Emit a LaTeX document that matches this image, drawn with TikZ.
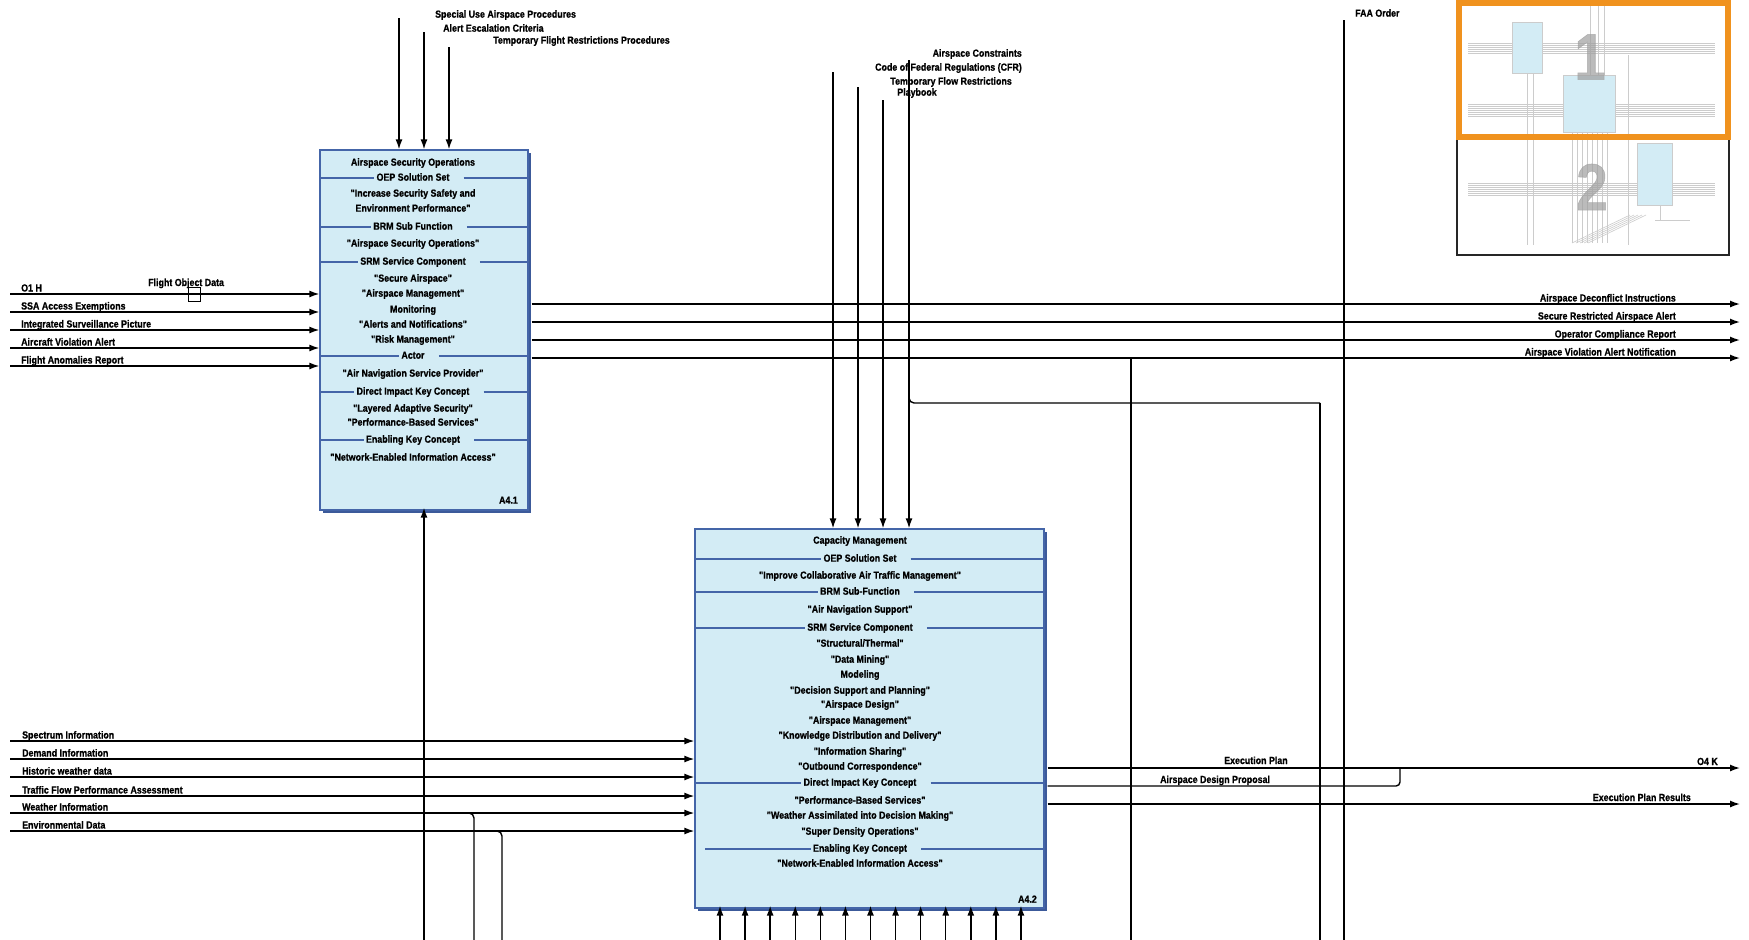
\documentclass[tikz,border=0pt]{standalone}
\usepackage{fontspec}
\newfontfamily\lbf[FakeStretch=0.86, BoldFeatures={FakeBold=0.8}]{Liberation Sans}
\usetikzlibrary{arrows.meta}
\definecolor{boxfill}{HTML}{D3ECF5}
\definecolor{boxline}{HTML}{4465A8}
\definecolor{boxshade}{HTML}{3C5A9A}
\definecolor{thumborange}{HTML}{F0921E}

% header row inside an activity box: text with a rule broken around it
\newcommand\hdrrow[6]{%
  \node[txt] (#1) at (#2,#3) {#6};
  \draw[sep] (#4,#3) -- ([xshift=-2pt]#1.west);
  \draw[sep] ([xshift=14pt]#1.east) -- (#5,#3);
}

\begin{document}
\begin{tikzpicture}[x=1pt,y=-1pt,
  txt/.style={font={\lbf\bfseries\fontsize{10.3}{12}\selectfont}, inner sep=0pt,
              text height=7.6pt, text depth=2.2pt},
  lbl/.style={txt},
  line/.style={line width=1.4pt, black},
  flow/.style={line, -{Latex[length=10pt,width=7pt]}},
  sep/.style={line width=1.2pt, boxline},
  actbox/.style={draw=boxline, fill=boxfill, line width=1.3pt, inner sep=0pt,
                 preaction={fill=boxshade, transform canvas={xshift=3pt,yshift=-3pt}}},
  mini/.style={draw=gray!40, line width=0.6pt}]

\useasboundingbox (0,0) rectangle (1749,940);
\fill[white] (0,0) rectangle (1749,940);

% ---------------- activity boxes ----------------
\node[actbox, minimum width=208pt, minimum height=360pt] (A41) at (424,330) {};
\node[actbox, minimum width=349pt, minimum height=379pt] (A42) at (869.5,718.5) {};

% ---------------- A4.1 contents ----------------
\node[txt] (a1t1) at (413,163) {Airspace Security Operations};
\hdrrow{a1h1}{413}{178}{321}{527}{OEP Solution Set}
\node[txt] (a1t2) at (413,194) {"Increase Security Safety and};
\node[txt] (a1t3) at (413,209) {Environment Performance"};
\hdrrow{a1h2}{413}{227}{321}{527}{BRM Sub Function}
\node[txt] (a1t4) at (413,244) {"Airspace Security Operations"};
\hdrrow{a1h3}{413}{262}{321}{527}{SRM Service Component}
\node[txt] (a1t5) at (413,279) {"Secure Airspace"};
\node[txt] (a1t6) at (413,294) {"Airspace Management"};
\node[txt] (a1t7) at (413,310) {Monitoring};
\node[txt] (a1t8) at (413,325) {"Alerts and Notifications"};
\node[txt] (a1t9) at (413,340) {"Risk Management"};
\hdrrow{a1h4}{413}{356}{321}{527}{Actor}
\node[txt] (a1t10) at (413,374) {"Air Navigation Service Provider"};
\hdrrow{a1h5}{413}{392}{321}{527}{Direct Impact Key Concept}
\node[txt] (a1t11) at (413,409) {"Layered Adaptive Security"};
\node[txt] (a1t12) at (413,423) {"Performance-Based Services"};
\hdrrow{a1h6}{413}{440}{321}{527}{Enabling Key Concept}
\node[txt] (a1t13) at (413,458) {"Network-Enabled Information Access"};
\node[txt, anchor=east] (a1id) at (518,501) {A4.1};

% ---------------- A4.2 contents ----------------
\node[txt] (a2t1) at (860,541) {Capacity Management};
\hdrrow{a2h1}{860}{559}{696}{1043}{OEP Solution Set}
\node[txt] (a2t2) at (860,576) {"Improve Collaborative Air Traffic Management"};
\hdrrow{a2h2}{860}{592}{696}{1043}{BRM Sub-Function}
\node[txt] (a2t3) at (860,610) {"Air Navigation Support"};
\hdrrow{a2h3}{860}{628}{696}{1043}{SRM Service Component}
\node[txt] (a2t4) at (860,644) {"Structural/Thermal"};
\node[txt] (a2t5) at (860,660) {"Data Mining"};
\node[txt] (a2t6) at (860,675) {Modeling};
\node[txt] (a2t7) at (860,691) {"Decision Support and Planning"};
\node[txt] (a2t8) at (860,705) {"Airspace Design"};
\node[txt] (a2t9) at (860,721) {"Airspace Management"};
\node[txt] (a2t10) at (860,736) {"Knowledge Distribution and Delivery"};
\node[txt] (a2t11) at (860,752) {"Information Sharing"};
\node[txt] (a2t12) at (860,767) {"Outbound Correspondence"};
\hdrrow{a2h4}{860}{783}{696}{1043}{Direct Impact Key Concept}
\node[txt] (a2t13) at (860,801) {"Performance-Based Services"};
\node[txt] (a2t14) at (860,816) {"Weather Assimilated into Decision Making"};
\node[txt] (a2t15) at (860,832) {"Super Density Operations"};
\hdrrow{a2h5}{860}{849}{705}{1043}{Enabling Key Concept}
\node[txt] (a2t16) at (860,864) {"Network-Enabled Information Access"};
\node[txt, anchor=east] (a2id) at (1037,900) {A4.2};

% ---------------- controls into A4.1 ----------------
\coordinate (c11) at (399,18);
\coordinate (c12) at (424,32);
\coordinate (c13) at (449,47);
\foreach \c in {c11,c12,c13} \draw[flow] (\c) -- (\c |- A41.north);
\node[lbl, anchor=west] (lc11) at (435,15) {Special Use Airspace Procedures};
\node[lbl, anchor=west] (lc12) at (443,29) {Alert Escalation Criteria};
\node[lbl, anchor=west] (lc13) at (493,41) {Temporary Flight Restrictions Procedures};

% ---------------- inputs into A4.1 ----------------
\foreach \y/\t/\n in {294/{O1 H}/i1, 312/{SSA Access Exemptions}/i2,
    330/{Integrated Surveillance Picture}/i3, 348/{Aircraft Violation Alert}/i4,
    366/{Flight Anomalies Report}/i5} {
  \coordinate (\n) at (10,\y);
  \draw[flow] (\n) -- (\n -| A41.west);
  \node[lbl, anchor=base west] (l\n) at (21,\y-2.5) {\t};
}
\node[lbl, anchor=base west] (lfod) at (148,286) {Flight Object Data};
\node[draw, line width=1pt, minimum width=12pt, minimum height=14pt, inner sep=0pt] (tun) at (194,294) {};

% ---------------- outputs from A4.1 ----------------
\foreach \y/\t/\n in {304/{Airspace Deconflict Instructions}/o1,
    322/{Secure Restricted Airspace Alert}/o2, 340/{Operator Compliance Report}/o3,
    358/{Airspace Violation Alert Notification}/o4} {
  \coordinate (\n) at (1740,\y);
  \draw[flow] ([xshift=3pt]\n -| A41.east) -- (\n);
  \node[lbl, anchor=base east] (l\n) at (1676,\y-2.5) {\t};
}
\coordinate (v1t) at (1131,358);
\coordinate (v1b) at (1131,940);
\draw[line] (v1t) -- (v1b);

% ---------------- mechanism under A4.1 ----------------
\coordinate (m1) at (424,940);
\draw[flow, shorten >=-3pt] (m1) -- (m1 |- A41.south);

% ---------------- controls into A4.2 ----------------
\coordinate (c21) at (833,72);
\coordinate (c22) at (858,87);
\coordinate (c23) at (883,100);
\coordinate (c24) at (909,60);
\foreach \c in {c21,c22,c23,c24} \draw[flow] (\c) -- (\c |- A42.north);
\node[lbl, anchor=east] (lc21) at (1022,54) {Airspace Constraints};
\node[lbl, anchor=east] (lc22) at (1022,68) {Code of Federal Regulations (CFR)};
\node[lbl, anchor=east] (lc23) at (1012,82) {Temporary Flow Restrictions};
\node[lbl] (lc24) at (917,93) {Playbook};

% branch of the playbook line
\coordinate (br0) at (909,395);
\coordinate (br1) at (1320,403);
\coordinate (br2) at (1320,940);
\draw[line, rounded corners=5pt] (br0) |- (br1);
\draw[line] (br1) -- (br2);

% FAA order
\coordinate (faa) at (1344,20);
\coordinate (faab) at (1344,940);
\draw[line] (faa) -- (faab);
\node[lbl, anchor=west] (lfaa) at (1355,14) {FAA Order};

% ---------------- inputs into A4.2 ----------------
\foreach \y/\t/\n in {741/{Spectrum Information}/j1, 759/{Demand Information}/j2,
    777/{Historic weather data}/j3, 796/{Traffic Flow Performance Assessment}/j4,
    813/{Weather Information}/j5, 831/{Environmental Data}/j6} {
  \coordinate (\n) at (10,\y);
  \draw[flow] (\n) -- (\n -| A42.west);
  \node[lbl, anchor=base west] (l\n) at (22,\y-2.5) {\t};
}
\coordinate (w1) at (466,813);
\coordinate (w1b) at (474,940);
\draw[line, rounded corners=5pt] (w1) -| (w1b);
\coordinate (w2) at (494,831);
\coordinate (w2b) at (502,940);
\draw[line, rounded corners=5pt] (w2) -| (w2b);

% ---------------- outputs from A4.2 ----------------
\coordinate (ep) at (1740,768);
\draw[flow] ([xshift=3pt]ep -| A42.east) -- (ep);
\coordinate (adp) at (1400,786);
\coordinate (adpj) at (1400,768);
\draw[line, rounded corners=4pt] ([xshift=3pt]adp -| A42.east) -| (adpj);
\coordinate (epr) at (1740,804);
\draw[flow] ([xshift=3pt]epr -| A42.east) -- (epr);
\node[lbl, anchor=base west] (lep) at (1224,764) {Execution Plan};
\node[lbl, anchor=base east] (lo4) at (1718,765) {O4 K};
\node[lbl, anchor=base west] (ladp) at (1160,783) {Airspace Design Proposal};
\node[lbl, anchor=base east] (lepr) at (1691,801) {Execution Plan Results};

% ---------------- mechanisms under A4.2 ----------------
\foreach \i in {0,...,12} {
  \coordinate (b\i) at (720+25.08*\i,940);
  \draw[flow, shorten >=-3pt] (b\i) -- (b\i |- A42.south);
}

% ---------------- page navigator ----------------
\begin{scope}
  \draw[black!85, line width=1.5pt] (1457,-2) rectangle (1729,255);
  % faint miniature of the two pages
  \foreach \y in {43,45,...,53} {
    \draw[mini] (1468,\y) -- (1512,\y);
    \draw[mini] (1542,\y) -- (1715,\y);
  }
  \foreach \y in {104,106,...,116} {
    \draw[mini] (1468,\y) -- (1563,\y);
    \draw[mini] (1615,\y) -- (1715,\y);
  }
  \foreach \y in {183,185,...,195} {
    \draw[mini] (1468,\y) -- (1637,\y);
    \draw[mini] (1672,\y) -- (1715,\y);
  }
  \foreach \x in {1527,1533} \draw[mini] (\x,73) -- (\x,245);
  \foreach \x in {1572,1577,...,1607} \draw[mini] (\x,132) -- (\x,243);
  \foreach \x in {1590,1598,1604} \draw[mini] (\x,3) -- (\x,75);
  \draw[mini] (1628,55) -- (1628,245);
  \draw[mini] (1660,205) -- (1660,220);
  \draw[mini] (1655,220) -- (1690,220);
  \foreach \d in {0,4,...,16} \draw[mini] (1572+\d,243) -- (1630+\d,215);
  \draw[mini, fill=boxfill] (1512,22) rectangle (1542,73);
  \draw[mini, fill=boxfill] (1563,75) rectangle (1615,132);
  \draw[mini, fill=boxfill] (1637,143) rectangle (1672,205);
  \node[font={\lbf\bfseries\fontsize{66}{66}\selectfont}, text=gray!75, opacity=0.7, inner sep=0pt] (pg1) at (1590,57) {1};
  \node[font={\lbf\bfseries\fontsize{66}{66}\selectfont}, text=gray!75, opacity=0.7, inner sep=0pt] (pg2) at (1592,187) {2};
  \draw[thumborange, line width=6pt] (1459,3) rectangle (1728,137);
\end{scope}

\end{tikzpicture}
\end{document}
